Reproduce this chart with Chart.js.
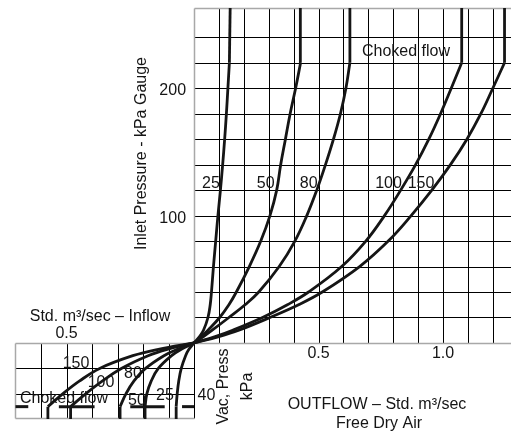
<!DOCTYPE html>
<html>
<head>
<meta charset="utf-8">
<script src="https://cdn.jsdelivr.net/npm/chart.js"></script>
<style>
body{margin:0;background:#fff;}
</style>
</head>
<body>
<canvas id="flowChart" width="511" height="434"></canvas>
<script>
const sizeLabels=["25","50","80","100","150"];

// outflow side: inlet pressure kPa gauge -> std m3/sec
const outPressure=[0,5,10,20,30,40,60,80,100,120,140,160,180,200,220];
const outFlow25=[0,0.022,0.038,0.056,0.065,0.07,0.078,0.087,0.096,0.106,0.115,0.123,0.13,0.136,0.142];
const outFlow50=[0,0.03,0.056,0.103,0.14,0.17,0.222,0.268,0.305,0.332,0.348,0.367,0.386,0.408,0.428];
const outFlow80=[0,0.038,0.073,0.14,0.205,0.26,0.342,0.405,0.453,0.493,0.528,0.56,0.588,0.61,0.626];
const outFlow100=[0,0.085,0.155,0.275,0.375,0.46,0.593,0.69,0.765,0.83,0.89,0.943,0.99,1.033,1.075];
const outFlow150=[0,0.1,0.18,0.305,0.42,0.515,0.665,0.78,0.872,0.955,1.03,1.096,1.152,1.2,1.247];
const chokedTopFlow=[0.146,0.427,0.626,1.075,1.247];

// inflow side: vacuum kPa -> std m3/sec
const inVacuum=[0,5,10,20,30,40,50];
const inFlow25=[0,0.02,0.033,0.05,0.06,0.066,0.07];
const inFlow50=[0,0.05,0.088,0.14,0.168,0.185,0.192];
const inFlow80=[0,0.065,0.118,0.19,0.236,0.267,0.29];
const inFlow100=[0,0.105,0.18,0.285,0.36,0.425,0.484];
const inFlow150=[0,0.14,0.24,0.37,0.45,0.515,0.573];

const chokedVacuum=50;
const chokedDashFrom=[0.70,0.53,0.25,0.047];
const chokedDashTo=[0.65,0.39,0.115,0];

const outflowGrid=[0.1,0.2,0.3,0.4,0.5,0.6,0.7,0.8,0.9,1.0,1.1,1.2];
const pressureGrid=[20,40,60,80,100,120,140,160,180,200,220,240];
const inflowGrid=[0.1,0.2,0.3,0.4,0.5,0.6];
const vacuumGrid=[20,40];
const pressureTickLabels=[100,200];
const outflowTickLabels=["0.5","1.0"];
const inflowTickLabels=["0.5"];

const outFlows=[outFlow25,outFlow50,outFlow80,outFlow100,outFlow150];
const inFlows=[inFlow25,inFlow50,inFlow80,inFlow100,inFlow150];

const ink="#151515";
const font="'Liberation Sans', Arial, sans-serif";

function curve(points,xAxis,yAxis,tension){
return {
data:points,
xAxisID:xAxis,
yAxisID:yAxis,
borderColor:ink,
borderWidth:2.8,
pointRadius:0,
tension:tension,
fill:false
};
}

const datasets=[];

sizeLabels.forEach((s,i)=>{

const out=outFlows[i];
datasets.push(curve(outPressure.map((p,j)=>({x:out[j],y:p})),"xOut","y",0.4));
datasets.push(curve([
{x:out[out.length-1],y:outPressure[outPressure.length-1]},
{x:chokedTopFlow[i],y:275}
],"xOut","y",0));

const inn=inFlows[i];
datasets.push(curve(inVacuum.map((v,j)=>({x:inn[j],y:v})),"xIn","yVac",0.4));
datasets.push(curve([
{x:inn[inn.length-1],y:inVacuum[inVacuum.length-1]},
{x:inn[inn.length-1],y:65}
],"xIn","yVac",0));

});

chokedDashFrom.forEach((f,i)=>{
const d=curve([{x:f,y:chokedVacuum},{x:chokedDashTo[i],y:chokedVacuum}],"xIn","yVac",0);
d.borderWidth=3;
datasets.push(d);
});

function crisp(v){return Math.round(v)+0.5;}

function seg(ctx,x1,y1,x2,y2){
ctx.beginPath();
ctx.moveTo(x1,y1);
ctx.lineTo(x2,y2);
ctx.stroke();
}

const quadrantGrid={
id:"quadrantGrid",
beforeDatasetsDraw(chart){
const {ctx,chartArea:a,scales:s}=chart;
const x0=crisp(s.xOut.getPixelForValue(0));
const y0=crisp(s.y.getPixelForValue(0));
const left=crisp(a.left);
const bottom=crisp(a.bottom-1);
const top=crisp(a.top);

ctx.save();
ctx.strokeStyle="#000";
ctx.lineWidth=1;

outflowGrid.forEach(v=>{
const x=crisp(s.xOut.getPixelForValue(v));
seg(ctx,x,top,x,y0);
});
pressureGrid.forEach(v=>{
const y=crisp(s.y.getPixelForValue(v));
seg(ctx,x0,y,a.right,y);
});
inflowGrid.forEach(v=>{
const x=crisp(s.xIn.getPixelForValue(v));
seg(ctx,x,y0,x,bottom);
});
vacuumGrid.forEach(v=>{
const y=crisp(s.yVac.getPixelForValue(v));
seg(ctx,left,y,x0,y);
});
seg(ctx,x0,y0,x0,bottom);

ctx.strokeStyle="#a8a8a8";
ctx.lineWidth=1.5;
seg(ctx,x0,top,x0,y0);
seg(ctx,x0,top,a.right,top);
seg(ctx,left,y0,a.right,y0);
seg(ctx,left,y0,left,bottom);
seg(ctx,left,bottom,x0,bottom);
ctx.restore();
}
};

function text(ctx,str,x,y,size,align,rot){
ctx.save();
ctx.translate(x,y);
if(rot) ctx.rotate(rot);
ctx.font=size+"px "+font;
ctx.fillStyle=ink;
ctx.textAlign=align||"center";
ctx.textBaseline="middle";
ctx.fillText(str,0,0);
ctx.restore();
}

const chartText={
id:"chartText",
afterDatasetsDraw(chart){
const {ctx,scales:s}=chart;
const x0=s.xOut.getPixelForValue(0);
const y0=s.y.getPixelForValue(0);

pressureTickLabels.forEach(p=>text(ctx,String(p),x0-8,s.y.getPixelForValue(p)+2.5,16,"right"));
outflowTickLabels.forEach(v=>text(ctx,v,s.xOut.getPixelForValue(Number(v)),y0+10.5,16));
inflowTickLabels.forEach(v=>text(ctx,v,s.xIn.getPixelForValue(Number(v)),y0-9,16));

text(ctx,"Inlet Pressure - kPa Gauge",142,153.5,16,"center",-Math.PI/2);
text(ctx,"Choked flow",406,51.5,16);
text(ctx,"Std. m³/sec – Inflow",100,316.5,16);
text(ctx,"OUTFLOW – Std. m³/sec",377,405,16);
text(ctx,"Free Dry Air",379,424,16);
text(ctx,"Vac, Press",224,386.5,16,"center",-Math.PI/2);
text(ctx,"kPa",247.5,386.5,16,"center",-Math.PI/2);
text(ctx,"40",206.5,396,16);
text(ctx,"Choked flow",64,399,16);

const upperNames=[[211,183.5],[265.7,183.5],[308.7,183.5],[388.5,183.5],[421,183.5]];
sizeLabels.forEach((n,i)=>text(ctx,n,upperNames[i][0],upperNames[i][1],16));
const lowerNames=[[165,396],[137,401],[133,374],[101,382.5],[76,364]];
sizeLabels.forEach((n,i)=>text(ctx,n,lowerNames[i][0],lowerNames[i][1],16));
}
};

const hidden={type:"linear",display:false,grid:{display:false},ticks:{display:false}};

new Chart(document.getElementById("flowChart"),{
type:"line",
data:{datasets:datasets},
options:{
responsive:false,
animation:false,
parsing:false,
normalized:true,
layout:{padding:{left:15,top:8,right:0,bottom:15}},
plugins:{legend:{display:false},tooltip:{enabled:false}},
scales:{
xOut:{...hidden,min:-0.719,max:1.273},
xIn:{...hidden,reverse:true,min:-1.243,max:0.702},
y:{...hidden,min:-59.7,max:263},
yVac:{...hidden,reverse:true,min:-263,max:59.7}
}
},
plugins:[quadrantGrid,chartText]
});
</script>
</body>
</html>
